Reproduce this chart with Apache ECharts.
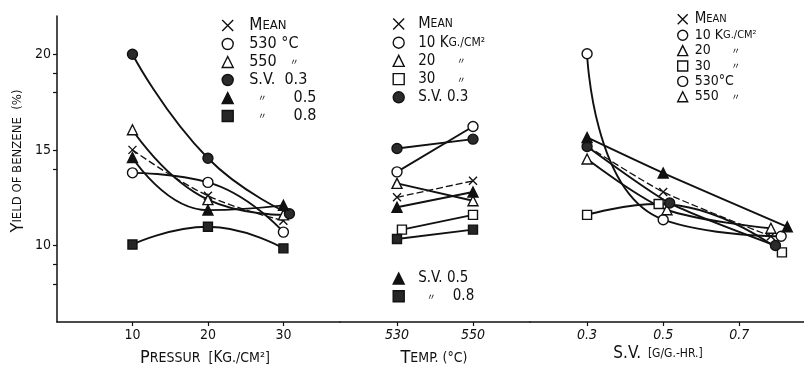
<!DOCTYPE html>
<html><head><meta charset="utf-8">
<script src="https://cdn.jsdelivr.net/npm/echarts@6/dist/echarts.min.js"></script>
<style>html,body{margin:0;padding:0;background:#fff}#c{width:804px;height:370px}</style>
</head><body><div id="c"></div>
<script>
// ---------- Panel 1 : pressure (Kg/cm2) ----------
const pressureX   = [10, 20, 30];
const pMean       = [15.0, 12.6, 11.3];
const p530        = [13.8, 13.3, 10.7];
const p550        = [16.05, 12.4, 11.6];
const pSV03X      = [10, 20, 30.8];
const pSV03       = [20.0, 14.56, 11.66];
const pSV05       = [14.6, 11.85, 12.1];
const pSV08       = [10.05, 10.98, 9.85];
const pressureTicks = [10, 20, 30];

// ---------- Panel 2 : temperature (°C) ----------
const tempX   = [530, 550];
const tMean   = [12.52, 13.38];
const t10     = [13.85, 16.22];
const t20     = [13.25, 12.34];
const t30X    = [531.3, 550];
const t30     = [10.83, 11.6];
const tSV03   = [15.07, 15.56];
const tSV05   = [12.0, 12.8];
const tSV08   = [10.34, 10.83];
const tempTicks = [530, 550];

// ---------- Panel 3 : S.V. (g/g-hr) ----------
const sMeanX = [0.3, 0.5, 0.783];  const sMean = [15.2, 12.8, 10.48];
const s10X   = [0.3, 0.5, 0.81];   const s10   = [20.03, 11.35, 10.48];
const s20X   = [0.3, 0.51, 0.783]; const s20   = [14.52, 11.87, 10.9];
const s30X   = [0.3, 0.488, 0.812];const s30   = [11.6, 12.17, 9.64];
const s530X  = [0.3, 0.517, 0.795];const s530  = [15.18, 12.22, 10.0];
const s550X  = [0.3, 0.5, 0.826];  const s550  = [15.65, 13.79, 10.98];
const svTicks = [0.3, 0.5, 0.7];

const yTicks = [8, 9, 10, 14, 15, 18, 19, 20];
const yLabels = [10, 15, 20];

const FONT = "'Liberation Sans Narrow','DejaVu Sans Condensed','Arial Narrow',sans-serif";
const CJK = "'Noto Sans CJK JP',sans-serif";
const INK = '#111';

const SYM = {
  cross: {symbol: 'path://M0,0L10,10M10,0L0,10', fill: INK, size: 8},
  oc: {symbol: 'circle', fill: '#fff', size: 10},
  ot: {symbol: 'triangle', fill: '#fff', size: 10},
  os: {symbol: 'rect', fill: '#fff', size: 9},
  fc: {symbol: 'circle', fill: '#2b2b2b', size: 10},
  ft: {symbol: 'triangle', fill: INK, size: 10},
  fs: {symbol: 'rect', fill: '#262626', size: 9}
};

function mk(name, g, xs, ys, sym, dashed, smooth) {
  const s = SYM[sym];
  return {
    name: name, type: 'line', xAxisIndex: g, yAxisIndex: g,
    data: xs.map((x, i) => [x, ys[i]]),
    symbol: s.symbol, symbolSize: s.size, showSymbol: true,
    smooth: smooth, z: 3,
    itemStyle: {color: s.fill, borderColor: INK, borderWidth: 1.4},
    lineStyle: {color: INK, width: dashed ? 1.3 : 1.9, type: dashed ? [7, 3] : 'solid'},
    emphasis: {disabled: true}, animation: false
  };
}
function legItem(name, sym, fillOverride) {
  const s = SYM[sym];
  return {name: name, icon: s.symbol,
    itemStyle: {color: fillOverride || s.fill, borderColor: INK, borderWidth: 1.4}};
}
function rich(big, small, lh, sp) {
  return {
    B: {fontSize: big, fontFamily: FONT, color: INK},
    s: {fontSize: small, fontFamily: FONT, color: INK},
    n: {fontSize: big - 1, fontFamily: FONT, color: INK},
    d: {fontSize: 9, fontFamily: CJK, color: INK, width: 26, align: 'center'},
    sp: {width: sp}
  };
}
const display = {
  'p_mean': '{sp|}{B|M}{s|EAN}',
  'p_530': '{sp|}{n|530 °C}',
  'p_550': '{sp|}{n|550 }{d|〃}',
  'p_sv03': '{sp|}{n|S.V.  0.3}',
  'p_sv05': '{sp|}{d|〃}{n|    0.5}',
  'p_sv08': '{sp|}{d|〃}{n|    0.8}',
  't_mean': '{sp|}{B|M}{s|EAN}',
  't_10': '{sp|}{n|10 K}{s|G./CM²}',
  't_20': '{sp|}{n|20   }{d|〃}',
  't_30': '{sp|}{n|30   }{d|〃}',
  't_sv03': '{sp|}{n|S.V. 0.3}',
  't_sv05': '{sp|}{n|S.V. 0.5}',
  't_sv08': '{sp|}{d|〃}{n|  0.8}',
  's_mean': '{sp|}{B|M}{s|EAN}',
  's_10': '{sp|}{n|10 K}{s|G./CM²}',
  's_20': '{sp|}{n|20   }{d|〃}',
  's_30': '{sp|}{n|30   }{d|〃}',
  's_530': '{sp|}{n|530°C}',
  's_550': '{sp|}{n|550 }{d|〃}'
};
const fmt = name => display[name];

const series = [
  mk('p_mean', 0, pressureX, pMean, 'cross', true, 0.4),
  mk('p_530', 0, pressureX, p530, 'oc', false, 0.5),
  mk('p_550', 0, pressureX, p550, 'ot', false, 0.5),
  mk('p_sv03', 0, pSV03X, pSV03, 'fc', false, 0.5),
  mk('p_sv05', 0, pressureX, pSV05, 'ft', false, 0.5),
  mk('p_sv08', 0, pressureX, pSV08, 'fs', false, 0.5),
  mk('t_mean', 1, tempX, tMean, 'cross', true, false),
  mk('t_10', 1, tempX, t10, 'oc', false, false),
  mk('t_20', 1, tempX, t20, 'ot', false, false),
  mk('t_30', 1, t30X, t30, 'os', false, false),
  mk('t_sv03', 1, tempX, tSV03, 'fc', false, false),
  mk('t_sv05', 1, tempX, tSV05, 'ft', false, false),
  mk('t_sv08', 1, tempX, tSV08, 'fs', false, false),
  mk('s_mean', 2, sMeanX, sMean, 'cross', true, 0.2),
  mk('s_10', 2, s10X, s10, 'oc', false, 0.6),
  mk('s_20', 2, s20X, s20, 'ot', false, 0.3),
  mk('s_30', 2, s30X, s30, 'os', false, 0.5),
  mk('s_530', 2, s530X, s530, 'fc', false, 0.2),
  mk('s_550', 2, s550X, s550, 'ft', false, 0.2)
];

function xAx(g, min, max, ticks, italic) {
  return {
    type: 'value', gridIndex: g, min: min, max: max,
    splitLine: {show: false},
    axisLine: {show: true, onZero: false, lineStyle: {color: INK, width: 1.5}},
    axisTick: {show: true, customValues: ticks, length: 4, lineStyle: {color: INK, width: 1.2}},
    axisLabel: {show: true, customValues: ticks, margin: 6, fontSize: 14, color: INK,
      fontFamily: FONT, fontStyle: italic ? 'italic' : 'normal'}
  };
}
function yAx(g, show) {
  return {
    type: 'value', gridIndex: g, min: 6, max: 22, show: show,
    splitLine: {show: false},
    axisLine: {show: show, lineStyle: {color: INK, width: 1.5}},
    axisTick: {show: show, customValues: yTicks, length: 4, lineStyle: {color: INK, width: 1.2}},
    axisLabel: {show: show, customValues: yLabels, margin: 6, fontSize: 14, color: INK, fontFamily: FONT}
  };
}
function legend(names, syms, left, top, gap, big, small, sp, iw, overrides) {
  return {
    orient: 'vertical', left: left, top: top, itemGap: gap, padding: 0,
    itemWidth: iw, itemHeight: iw, selectedMode: false,
    data: names.map((n, i) => legItem(n, syms[i], overrides && overrides[i])),
    formatter: fmt,
    textStyle: {rich: rich(big, small, 0, sp), fontFamily: FONT, color: INK}
  };
}

const option = {
  animation: false,
  backgroundColor: '#fff',
  grid: [
    {left: 57, top: 16, width: 283, height: 306},
    {left: 340, top: 16, width: 190, height: 306},
    {left: 530, top: 16, width: 274, height: 306}
  ],
  xAxis: [
    xAx(0, 0, 37.5, pressureTicks, false),
    xAx(1, 515, 565, tempTicks, true),
    xAx(2, 0.15, 0.87, svTicks, true)
  ],
  yAxis: [yAx(0, true), yAx(1, false), yAx(2, false)],
  legend: [
    legend(['p_mean', 'p_530', 'p_550', 'p_sv03', 'p_sv05', 'p_sv08'],
      ['cross', 'oc', 'ot', 'fc', 'ft', 'fs'], 221.5, 17, 2, 17, 13, 11, 11),
    legend(['t_mean', 't_10', 't_20', 't_30', 't_sv03'],
      ['cross', 'oc', 'ot', 'os', 'fc'], 392.5, 16, 3.2, 16, 12, 9, 11),
    legend(['t_sv05', 't_sv08'], ['ft', 'fs'], 392.5, 271, 2.7, 16, 12, 9, 11),
    legend(['s_mean', 's_10', 's_20', 's_30', 's_530', 's_550'],
      ['cross', 'oc', 'ot', 'os', 'oc', 'ot'], 677, 11.8, 1.4, 15, 11, 2, 10)
  ],
  graphic: [
    {type: 'text', x: 18, y: 161, rotation: Math.PI / 2,
      style: {text: '{B|Y}{s|IELD OF BENZENE}{s|  (%)}', align: 'center', verticalAlign: 'middle',
        rich: {B: {fontSize: 18, fontFamily: FONT, fill: INK}, s: {fontSize: 13, fontFamily: FONT, fill: INK}}}},
    {type: 'text', x: 205, y: 358,
      style: {text: '{B|P}{s|RESSUR}{s|  [}{m|K}{s|G./CM²]}', align: 'center', verticalAlign: 'middle',
        rich: {B: {fontSize: 18, fontFamily: FONT, fill: INK}, m: {fontSize: 15, fontFamily: FONT, fill: INK},
          s: {fontSize: 14, fontFamily: FONT, fill: INK}}}},
    {type: 'text', x: 434, y: 358,
      style: {text: '{B|T}{s|EMP.}{s| (°C)}', align: 'center', verticalAlign: 'middle',
        rich: {B: {fontSize: 18, fontFamily: FONT, fill: INK}, s: {fontSize: 14, fontFamily: FONT, fill: INK}}}},
    {type: 'text', x: 658, y: 354,
      style: {text: '{B|S.V.}{s|  [G/G.-HR.]}', align: 'center', verticalAlign: 'middle',
        rich: {B: {fontSize: 17, fontFamily: FONT, fill: INK}, s: {fontSize: 12, fontFamily: FONT, fill: INK}}}}
  ],
  series: series
};

const chart = echarts.init(document.getElementById('c'), null, {renderer: 'canvas'});
chart.setOption(option);
</script>
</body></html>
